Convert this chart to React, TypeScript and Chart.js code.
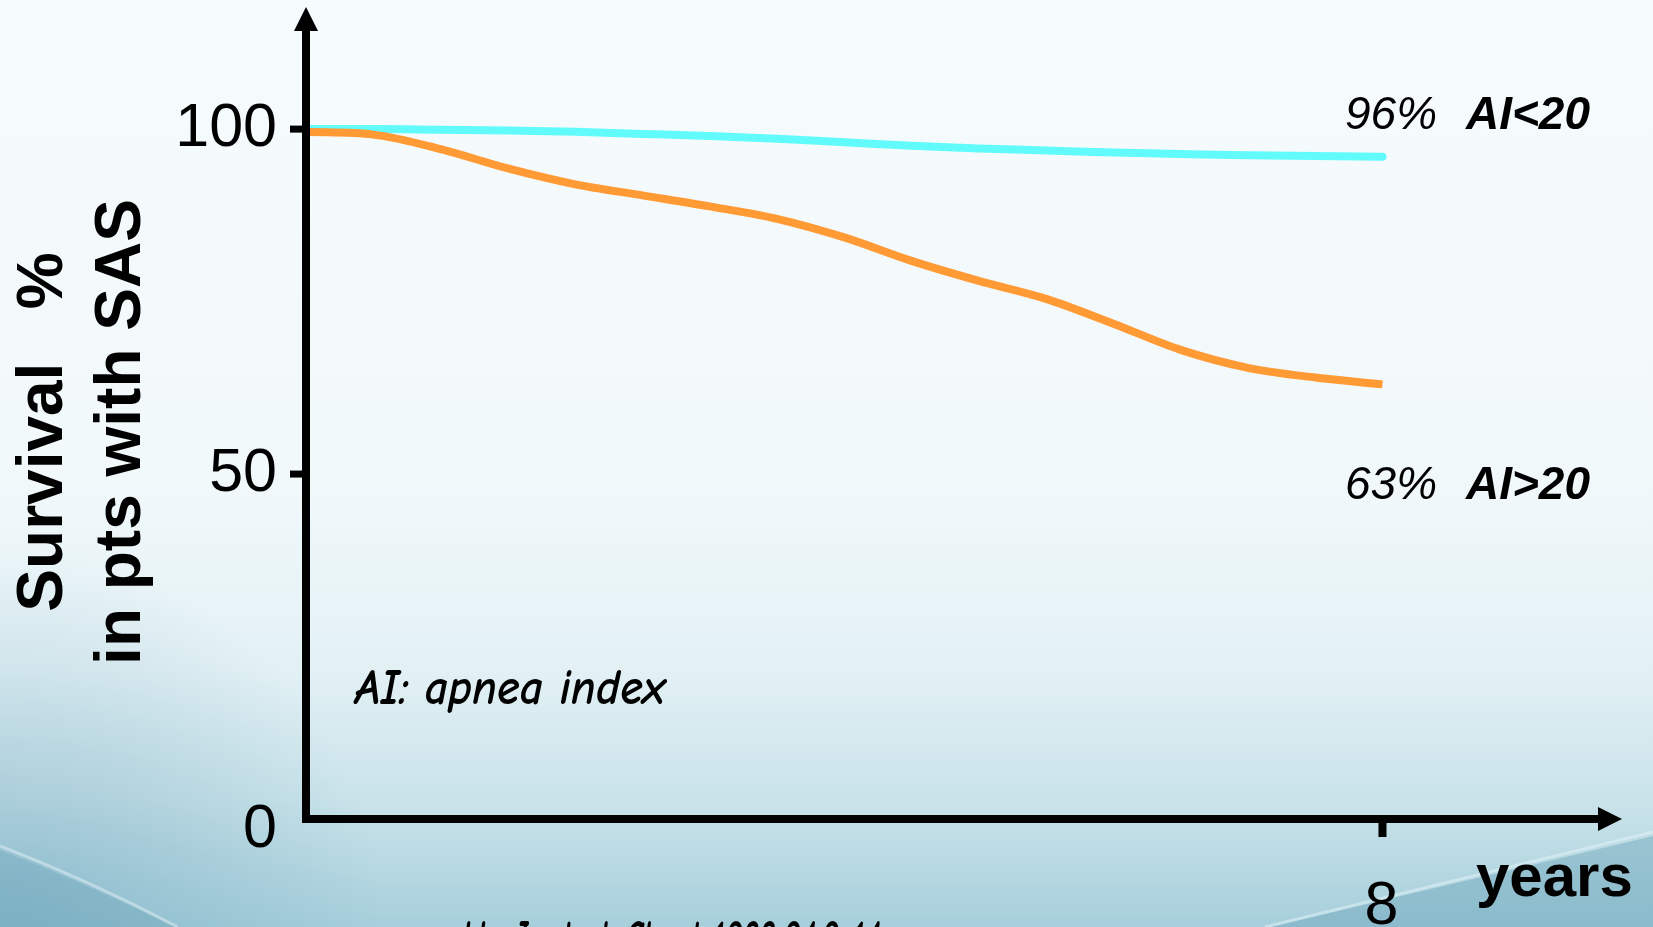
import { useEffect, useRef } from "react";
import { Chart, registerables } from "chart.js";

Chart.register(...registerables);

// Follow-up time (years)
const years = [0, 0.5, 1, 1.5, 2, 2.5, 3, 3.5, 4, 4.5, 5, 5.5, 6, 6.5, 7, 7.5, 8];
// Cumulative survival (%), apnea index < 20
const survivalLowAI = [100, 100, 99.9, 99.8, 99.6, 99.3, 99.0, 98.6, 98.1, 97.6, 97.2, 96.9, 96.6, 96.4, 96.2, 96.1, 96];
// Cumulative survival (%), apnea index > 20
const survivalHighAI = [99.6, 99.2, 97.1, 94.3, 92.0, 90.4, 88.8, 87.0, 84.3, 80.9, 78.0, 75.4, 71.8, 68.0, 65.4, 64.0, 63];
const seriesNames = ["AI<20", "AI>20"];
const seriesColors = ["#62fbfb", "#ff9a35"];
const yTickValues = [0, 50, 100];
const xTickValues = [8];
const yTitleLines = ["Survival   %", "in pts with SAS"];
const xTitle = "years";
const footnote = "AI: apnea index";
const citation = "He J, et al. Chest 1988;94:9-14";

const SANS = '"Liberation Sans", Arial, Helvetica, sans-serif';
const HAND = '"Comic Sans MS", "Comic Neue", "DejaVu Sans", sans-serif';

const W = 1653;
const H = 927;
const X_MAX = 9.78;
const Y_MAX = 117.7;

const toPoints = (ys: number[]) => years.map((x, i) => ({ x, y: ys[i] }));
const last = (a: number[]) => a[a.length - 1];

// fill text squeezed horizontally to a target width
function fitText(ctx: CanvasRenderingContext2D, text: string, x: number, y: number, width: number) {
  const natural = ctx.measureText(text).width;
  const k = Math.min(1, width / natural);
  ctx.save();
  ctx.translate(x, y);
  ctx.scale(k, 1);
  ctx.fillText(text, 0, 0);
  ctx.restore();
}

const slideBackground = {
  id: "slideBackground",
  beforeDraw(chart: any) {
    const ctx: CanvasRenderingContext2D = chart.ctx;
    const w = chart.width;
    const h = chart.height;
    ctx.save();
    const g = ctx.createLinearGradient(0, 0, 0, h);
    g.addColorStop(0, "#f6fbfd");
    g.addColorStop(0.5, "#f2f9fb");
    g.addColorStop(0.72, "#e3f1f5");
    g.addColorStop(0.86, "#cae3ea");
    g.addColorStop(1, "#a6cfdb");
    ctx.fillStyle = g;
    ctx.fillRect(0, 0, w, h);

    // soft shading in the lower-left corner
    const rg = ctx.createRadialGradient(0, h, 0, 0, h, 380);
    rg.addColorStop(0, "rgba(100,158,182,0.45)");
    rg.addColorStop(1, "rgba(100,158,182,0)");
    ctx.fillStyle = rg;
    ctx.fillRect(0, h - 400, 420, 400);

    // lower-left swoosh
    ctx.beginPath();
    ctx.moveTo(0, 850);
    ctx.quadraticCurveTo(90, 885, 175, h);
    ctx.lineTo(0, h);
    ctx.closePath();
    ctx.fillStyle = "rgba(95,155,180,0.3)";
    ctx.fill();
    ctx.beginPath();
    ctx.moveTo(0, 846);
    ctx.quadraticCurveTo(90, 881, 178, h);
    ctx.strokeStyle = "rgba(235,246,250,0.45)";
    ctx.lineWidth = 3;
    ctx.stroke();

    // lower-right swoosh
    ctx.beginPath();
    ctx.moveTo(1270, h);
    ctx.quadraticCurveTo(1470, 880, w, 836);
    ctx.lineTo(w, h);
    ctx.closePath();
    ctx.fillStyle = "rgba(95,155,180,0.38)";
    ctx.fill();
    ctx.beginPath();
    ctx.moveTo(1265, h);
    ctx.quadraticCurveTo(1470, 876, w, 832);
    ctx.strokeStyle = "rgba(230,244,249,0.5)";
    ctx.lineWidth = 3;
    ctx.stroke();
    ctx.restore();
  },
};

const axesAndText = {
  id: "axesAndText",
  afterDatasetsDraw(chart: any) {
    const ctx: CanvasRenderingContext2D = chart.ctx;
    const xs = chart.scales.x;
    const ys = chart.scales.y;
    const x0 = xs.getPixelForValue(0);
    const y0 = ys.getPixelForValue(0);
    const yTop = ys.getPixelForValue(Y_MAX);
    const xEnd = xs.getPixelForValue(X_MAX);
    const lw = 8;
    ctx.save();
    ctx.fillStyle = "#000";

    // vertical axis with arrow
    ctx.fillRect(x0 - lw / 2, yTop + 22, lw, y0 - yTop - 22 + lw / 2);
    ctx.beginPath();
    ctx.moveTo(x0, yTop);
    ctx.lineTo(x0 - 12, yTop + 24);
    ctx.lineTo(x0 + 12, yTop + 24);
    ctx.closePath();
    ctx.fill();

    // horizontal axis with arrow
    ctx.fillRect(x0 - lw / 2, y0 - lw / 2, xEnd - x0 - 22 + lw / 2, lw);
    ctx.beginPath();
    ctx.moveTo(xEnd, y0);
    ctx.lineTo(xEnd - 24, y0 - 12);
    ctx.lineTo(xEnd - 24, y0 + 12);
    ctx.closePath();
    ctx.fill();

    // y ticks and labels
    ctx.font = `61px ${SANS}`;
    ctx.textAlign = "right";
    ctx.textBaseline = "middle";
    yTickValues.forEach((v) => {
      const py = ys.getPixelForValue(v);
      if (v !== 0) ctx.fillRect(x0 - 16, py - 3.5, 16, 7);
      ctx.fillText(String(v), x0 - 29, v === 0 ? py + 11 : py);
    });

    // x ticks and labels
    ctx.textAlign = "center";
    ctx.textBaseline = "alphabetic";
    xTickValues.forEach((v) => {
      const px = xs.getPixelForValue(v);
      ctx.fillRect(px - 4, y0, 8, 18);
      ctx.fillText(String(v), px - 1, y0 + 105);
    });

    // x title
    ctx.font = `bold 60px ${SANS}`;
    ctx.textAlign = "left";
    ctx.fillText(xTitle, 1476, 896);

    // y title (rotated, two lines)
    ctx.font = `bold 64px ${SANS}`;
    ctx.textAlign = "center";
    const titleBaselines = [62, 140];
    yTitleLines.forEach((line, i) => {
      ctx.save();
      ctx.translate(titleBaselines[i], 432);
      ctx.rotate(-Math.PI / 2);
      ctx.fillText(line, 0, 0);
      ctx.restore();
    });

    // end-of-follow-up labels
    const endValues = [last(survivalLowAI), last(survivalHighAI)];
    const labelBaselines = [129, 499];
    endValues.forEach((v, i) => {
      ctx.textAlign = "left";
      ctx.font = `italic 46px ${SANS}`;
      ctx.fillText(`${v}%`, 1345, labelBaselines[i]);
      ctx.font = `italic bold 46px ${SANS}`;
      ctx.fillText(seriesNames[i], 1466, labelBaselines[i]);
    });

    // note and reference
    ctx.font = `italic 600 50px ${HAND}`;
    ctx.textAlign = "left";
    fitText(ctx, footnote, 355, 704, 310);
    fitText(ctx, citation, 462, 955, 418);
    ctx.restore();
  },
};

export default function App() {
  const canvasRef = useRef<HTMLCanvasElement | null>(null);

  useEffect(() => {
    const canvas = canvasRef.current;
    if (!canvas) return;
    const chart = new Chart(canvas, {
      type: "line",
      data: {
        datasets: [
          {
            label: seriesNames[0],
            data: toPoints(survivalLowAI),
            borderColor: seriesColors[0],
            borderWidth: 8,
            pointRadius: 0,
            cubicInterpolationMode: "monotone",
            borderCapStyle: "round",
            fill: false,
            order: 2,
          },
          {
            label: seriesNames[1],
            data: toPoints(survivalHighAI),
            borderColor: seriesColors[1],
            borderWidth: 8,
            pointRadius: 0,
            cubicInterpolationMode: "monotone",
            borderCapStyle: "butt",
            fill: false,
            order: 1,
          },
        ],
      },
      options: {
        responsive: false,
        devicePixelRatio: 1,
        animation: false,
        events: [],
        layout: { padding: { left: 306, right: 31, top: 7, bottom: 108 } },
        scales: {
          x: { type: "linear", min: 0, max: X_MAX, display: false },
          y: { type: "linear", min: 0, max: Y_MAX, display: false },
        },
        plugins: {
          legend: { display: false },
          tooltip: { enabled: false },
        },
      },
      plugins: [slideBackground, axesAndText],
    } as any);
    return () => chart.destroy();
  }, []);

  return (
    <div style={{ position: "fixed", left: 0, top: 0, width: W, height: H, overflow: "hidden" }}>
      <canvas ref={canvasRef} width={W} height={H} style={{ display: "block", width: W, height: H }} />
    </div>
  );
}
